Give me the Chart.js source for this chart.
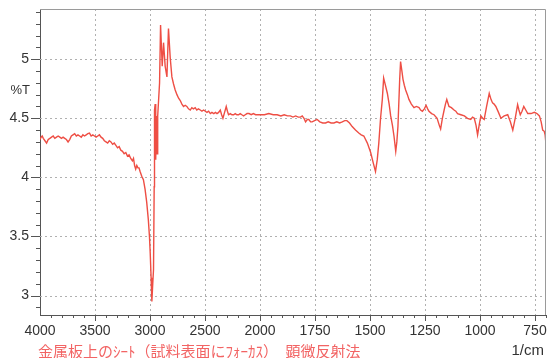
<!DOCTYPE html>
<html>
<head>
<meta charset="utf-8">
<script src="https://cdn.jsdelivr.net/npm/chart.js@4"></script>
<style>
  html, body { margin: 0; padding: 0; background: #fff; }
  #wrap { width: 547px; height: 358px; position: relative; }
</style>
</head>
<body>
<div id="wrap"><canvas id="spectrum"></canvas></div>
<script>
// IR reflectance spectrum (%T vs wavenumber). The x axis is compressed above
// 2000 1/cm (500 per division) and expanded below it (250 per division).
const WAVENUMBERS = [
  4000, 3990, 3980, 3970, 3955, 3940, 3925, 3910, 3895, 3880, 3865, 3850,
  3835, 3820, 3805, 3790, 3775, 3760, 3745, 3730, 3715, 3700, 3685, 3670,
  3655, 3640, 3625, 3610, 3595, 3580, 3565, 3550, 3535, 3520, 3505, 3490,
  3475, 3460, 3445, 3430, 3415, 3400, 3385, 3370, 3355, 3340, 3325, 3310,
  3295, 3280, 3265, 3250, 3235, 3220, 3205, 3190, 3175, 3160, 3150, 3140,
  3130, 3120, 3110, 3100, 3090, 3075, 3060, 3045, 3030, 3015, 3005, 2998,
  2990, 2983, 2975, 2968, 2962, 2959, 2953, 2948, 2942, 2935, 2930, 2913,
  2904, 2889, 2877, 2862, 2846, 2832, 2816, 2801, 2786, 2771, 2755, 2740,
  2725, 2710, 2695, 2680, 2665, 2650, 2634, 2620, 2605, 2589, 2575, 2560,
  2543, 2528, 2512, 2497, 2482, 2467, 2452, 2437, 2420, 2405, 2391, 2376,
  2361, 2349, 2337, 2322, 2307, 2296, 2286, 2270, 2255, 2240, 2225, 2210,
  2195, 2180, 2165, 2149, 2134, 2118, 2100, 2080, 2060, 2040, 2020, 1998,
  1980, 1960, 1940, 1922, 1905, 1890, 1875, 1862, 1850, 1838, 1826, 1816,
  1808, 1800, 1793, 1785, 1778, 1770, 1763, 1752, 1740, 1728, 1715, 1702,
  1690, 1677, 1664, 1651, 1638, 1626, 1615, 1605, 1593, 1581, 1566, 1551,
  1540, 1528, 1512, 1497, 1485, 1475, 1467, 1460, 1452, 1444, 1438, 1430,
  1421, 1413, 1406, 1398, 1391, 1383, 1378, 1373, 1365, 1361, 1355, 1350,
  1344, 1338, 1330, 1323, 1312, 1300, 1289, 1277, 1270, 1262, 1253, 1245,
  1238, 1232, 1220, 1209, 1195, 1185, 1179, 1171, 1163, 1157, 1151, 1146,
  1141, 1130, 1118, 1110, 1102, 1087, 1071, 1057, 1042, 1034, 1026, 1018,
  1011, 1003, 996, 988, 981, 970, 958, 950, 943, 936, 928, 916, 905, 890,
  874, 862, 851, 840, 829, 823, 817, 809, 801, 792, 783, 768, 753, 741,
  730, 722, 715, 708, 704, 700
];
const TRANSMITTANCE = [
  4.32, 4.34, 4.35, 4.33, 4.31, 4.29, 4.32, 4.33, 4.34, 4.35, 4.33, 4.34,
  4.35, 4.34, 4.33, 4.34, 4.33, 4.32, 4.30, 4.32, 4.35, 4.36, 4.37, 4.35,
  4.36, 4.35, 4.34, 4.36, 4.35, 4.36, 4.37, 4.375, 4.35, 4.36, 4.35, 4.34,
  4.35, 4.36, 4.34, 4.33, 4.31, 4.30, 4.29, 4.31, 4.30, 4.28, 4.29, 4.27,
  4.25, 4.26, 4.23, 4.22, 4.20, 4.21, 4.18, 4.19, 4.16, 4.14, 4.16, 4.10,
  4.07, 4.10, 4.08, 4.08, 4.05, 4.01, 3.98, 3.90, 3.79, 3.64, 3.50, 3.36,
  3.15, 2.95, 3.10, 3.22, 3.92, 4.57, 4.62, 4.15, 4.52, 4.20, 4.52, 4.80,
  5.29, 4.94, 5.14, 4.94, 4.85, 5.26, 5.01, 4.85, 4.79, 4.74, 4.70, 4.67,
  4.65, 4.62, 4.60, 4.61, 4.60, 4.58, 4.57, 4.59, 4.58, 4.59, 4.57, 4.58,
  4.57, 4.56, 4.57, 4.56, 4.55, 4.56, 4.54, 4.55, 4.54, 4.55, 4.54, 4.55,
  4.57, 4.53, 4.50, 4.55, 4.60, 4.56, 4.53, 4.54, 4.53, 4.53, 4.54, 4.53,
  4.53, 4.54, 4.53, 4.52, 4.53, 4.54, 4.54, 4.53, 4.54, 4.53, 4.53, 4.53,
  4.53, 4.54, 4.53, 4.53, 4.52, 4.53, 4.52, 4.52, 4.51, 4.52, 4.51, 4.51,
  4.52, 4.50, 4.47, 4.49, 4.49, 4.47, 4.47, 4.48, 4.49, 4.47, 4.46, 4.46,
  4.47, 4.46, 4.46, 4.47, 4.46, 4.47, 4.48, 4.48, 4.46, 4.43, 4.40, 4.375,
  4.36, 4.35, 4.29, 4.21, 4.12, 4.05, 4.15, 4.29, 4.50, 4.66, 4.84, 4.78,
  4.71, 4.62, 4.52, 4.44, 4.35, 4.22, 4.30, 4.43, 4.83, 4.98, 4.90, 4.83,
  4.78, 4.74, 4.70, 4.66, 4.62, 4.59, 4.60, 4.59, 4.57, 4.56, 4.58, 4.61,
  4.58, 4.56, 4.54, 4.53, 4.50, 4.44, 4.41, 4.50, 4.57, 4.62, 4.66, 4.63,
  4.60, 4.59, 4.57, 4.56, 4.54, 4.53, 4.52, 4.50, 4.49, 4.51, 4.50, 4.44,
  4.36, 4.45, 4.52, 4.50, 4.49, 4.60, 4.71, 4.66, 4.63, 4.62, 4.60, 4.55,
  4.50, 4.52, 4.53, 4.47, 4.40, 4.50, 4.615, 4.57, 4.53, 4.56, 4.60, 4.57,
  4.54, 4.54, 4.55, 4.54, 4.52, 4.47, 4.40, 4.39, 4.36, 4.28
];
const X_TICKS = [4000, 3500, 3000, 2500, 2000, 1750, 1500, 1250, 1000, 750];
const Y_TICKS = [3, 3.5, 4, 4.5, 5];
const CAPTION = "金属板上のｼｰﾄ（試料表面にﾌｫｰｶｽ）　顕微反射法";

// wavenumber -> axis division (0 at 4000, 4 at 2000, 9.2 at 700)
function toAxis(wn) {
  return wn >= 2000 ? (4000 - wn) / 500 : 4 + (2000 - wn) / 250;
}

const LINE_RED = "rgb(238, 78, 68)";
const TEXT = "#333";
const FONT = "'Liberation Sans', Arial, sans-serif";

// Dotted grid under the trace.
const dottedGrid = {
  id: "dottedGrid",
  beforeDatasetsDraw(chart) {
    const { ctx, chartArea: a, scales: { x, y } } = chart;
    ctx.save();
    ctx.strokeStyle = "#b0b0b0";
    ctx.lineWidth = 1;
    ctx.setLineDash([2, 3]);
    ctx.beginPath();
    X_TICKS.slice(1).forEach((wn) => {
      const px = Math.round(x.getPixelForValue(toAxis(wn))) + 0.5;
      ctx.moveTo(px, a.top);
      ctx.lineTo(px, a.bottom);
    });
    Y_TICKS.forEach((v) => {
      const py = Math.round(y.getPixelForValue(v)) + 0.5;
      ctx.moveTo(a.left, py);
      ctx.lineTo(a.right, py);
    });
    ctx.stroke();
    ctx.restore();
  }
};

// Frame, minor ticks and the free-standing labels.
const decorations = {
  id: "decorations",
  afterDraw(chart) {
    const { ctx, chartArea: a, scales: { x, y } } = chart;
    ctx.save();
    ctx.lineWidth = 1;
    ctx.strokeStyle = "#9a9a9a";
    ctx.beginPath();
    ctx.moveTo(a.left, a.top + 0.5);
    ctx.lineTo(a.right - 0.5, a.top + 0.5);
    ctx.lineTo(a.right - 0.5, a.bottom);
    ctx.stroke();

    ctx.strokeStyle = "#555";
    ctx.beginPath();
    for (let i = 29; i <= 54; i++) {
      const py = Math.round(y.getPixelForValue(i / 10)) + 0.5;
      const len = i % 5 === 0 ? 9 : 4;
      ctx.moveTo(a.left - len, py);
      ctx.lineTo(a.left, py);
    }
    for (let i = 1; i <= 46; i++) {
      const px = Math.round(x.getPixelForValue(i / 5)) + 0.5;
      const len = i % 5 === 0 ? 6 : 3;
      ctx.moveTo(px, a.bottom);
      ctx.lineTo(px, a.bottom + len);
    }
    ctx.stroke();

    ctx.fillStyle = TEXT;
    ctx.font = "13px " + FONT;
    ctx.textAlign = "right";
    ctx.textBaseline = "middle";
    ctx.fillText("%T", 30, 90);
    ctx.font = "15px " + FONT;
    ctx.fillText("1/cm", 544, 351);

    ctx.fillStyle = "#f26464";
    ctx.font = "15px 'Noto Sans CJK JP', sans-serif";
    ctx.textAlign = "left";
    ctx.fillText(CAPTION, 38, 351);
    ctx.restore();
  }
};

// Keep the plot box fixed: no extra room for overhanging tick labels.
function noOverhang(s) {
  s.paddingTop = 0;
  s.paddingBottom = 0;
  s.paddingLeft = 0;
  s.paddingRight = 0;
}

new Chart(document.getElementById("spectrum"), {
  type: "line",
  data: {
    datasets: [{
      data: WAVENUMBERS.map((wn, i) => ({ x: toAxis(wn), y: TRANSMITTANCE[i] })),
      borderColor: LINE_RED,
      borderWidth: 1.4,
      pointRadius: 0,
      tension: 0,
      fill: false
    }]
  },
  options: {
    responsive: true,
    maintainAspectRatio: false,
    animation: false,
    layout: { padding: { top: 9, right: 1, left: 0, bottom: 0 } },
    plugins: { legend: { display: false }, tooltip: { enabled: false } },
    scales: {
      x: {
        type: "linear",
        min: 0,
        max: toAxis(700),
        afterBuildTicks: (s) => { s.ticks = X_TICKS.map((wn) => ({ value: toAxis(wn) })); },
        afterFit: (s) => { s.height = 43; noOverhang(s); },
        grid: { display: false, drawTicks: false },
        border: { color: "#555", width: 1 },
        ticks: {
          color: TEXT,
          padding: 8,
          maxRotation: 0,
          font: { family: FONT, size: 14 },
          callback: (v) => X_TICKS[Math.round(v)]
        }
      },
      y: {
        min: 2.835,
        max: 5.425,
        afterBuildTicks: (s) => { s.ticks = Y_TICKS.map((v) => ({ value: v })); },
        afterFit: (s) => { s.width = 40; noOverhang(s); },
        grid: { display: false, drawTicks: false },
        border: { color: "#555", width: 1 },
        ticks: {
          color: TEXT,
          padding: 11,
          font: { family: FONT, size: 14 },
          callback: (v) => String(v)
        }
      }
    }
  },
  plugins: [dottedGrid, decorations]
});
</script>
</body>
</html>
